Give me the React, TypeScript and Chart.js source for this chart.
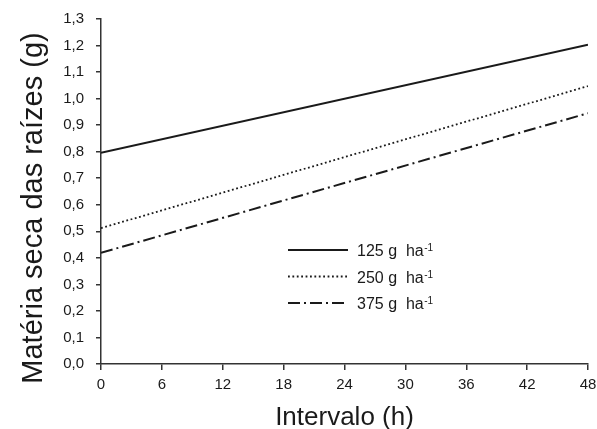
import React, { useEffect, useRef } from "react";
import { Chart, registerables } from "chart.js";

Chart.register(...registerables);

const FONT = "'Liberation Sans', Arial, Helvetica, sans-serif";

// ---- data ----
const xValues = [0, 48];
const series125 = [0.796, 1.203];
const series250 = [0.512, 1.047];
const series375 = [0.419, 0.945];
const seriesNames = ["125 g  ha", "250 g  ha", "375 g  ha"];
const seriesSup = "-1";
const xTickLabels = ["0", "6", "12", "18", "24", "30", "36", "42", "48"];
const yTickLabels = ["0,0", "0,1", "0,2", "0,3", "0,4", "0,5", "0,6", "0,7", "0,8", "0,9", "1,0", "1,1", "1,2", "1,3"];
const xTitle = "Intervalo (h)";
const yTitle = "Matéria seca das raízes (g)";

const INK = "#1a1a1a";
const AXIS = "#333333";

const customPlugin = {
  id: "customDecor",
  afterDraw(chart: any) {
    const { ctx, chartArea } = chart;
    ctx.save();
    ctx.fillStyle = INK;
    // x title
    ctx.font = `26px ${FONT}`;
    ctx.textAlign = "center";
    ctx.textBaseline = "alphabetic";
    ctx.fillText(xTitle, (chartArea.left + chartArea.right) / 2, chart.height - 4);
    // y title
    ctx.save();
    ctx.translate(42, 208);
    ctx.rotate(-Math.PI / 2);
    ctx.font = `29px ${FONT}`;
    ctx.fillText(yTitle, 0, 0);
    ctx.restore();
    // legend
    const lx0 = 288;
    const lx1 = 348;
    const tx = 357;
    chart.data.datasets.forEach((ds: any, i: number) => {
      const y = 250 + i * 26.5;
      ctx.save();
      ctx.strokeStyle = ds.borderColor;
      ctx.lineWidth = ds.borderWidth;
      ctx.setLineDash(ds.borderDash || []);
      ctx.beginPath();
      ctx.moveTo(lx0, y);
      ctx.lineTo(lx1, y);
      ctx.stroke();
      ctx.restore();
      ctx.textAlign = "left";
      ctx.font = `16px ${FONT}`;
      const base = y + 6;
      ctx.fillText(seriesNames[i], tx, base);
      const w = ctx.measureText(seriesNames[i]).width;
      ctx.font = `10px ${FONT}`;
      ctx.fillText(seriesSup, tx + w + 0.5, base - 5);
    });
    ctx.restore();
  },
};

function pts(vals: number[]) {
  return xValues.map((x, i) => ({ x, y: vals[i] }));
}

export default function App() {
  const ref = useRef<HTMLCanvasElement | null>(null);
  useEffect(() => {
    if (!ref.current) return;
    const chart = new Chart(ref.current, {
      type: "line",
      data: {
        datasets: [
          { label: seriesNames[0], data: pts(series125), borderColor: INK, borderWidth: 2, pointRadius: 0, borderDash: [], tension: 0 },
          { label: seriesNames[1], data: pts(series250), borderColor: INK, borderWidth: 1.8, pointRadius: 0, borderDash: [1.8, 2.6], tension: 0 },
          { label: seriesNames[2], data: pts(series375), borderColor: INK, borderWidth: 2, pointRadius: 0, borderDash: [12, 4, 2, 4], tension: 0 },
        ],
      },
      options: {
        responsive: false,
        animation: false,
        layout: { padding: { top: 19, right: 9, left: 0, bottom: 0 } },
        plugins: { legend: { display: false }, tooltip: { enabled: false }, title: { display: false } },
        scales: {
          x: {
            type: "linear",
            min: 0,
            max: 48,
            afterFit: (s: any) => { s.height = 65; s.paddingLeft = 0; s.paddingRight = 0; },
            afterBuildTicks: (s: any) => { s.ticks = xTickLabels.map((_, i) => ({ value: i * 6 })); },
            ticks: {
              stepSize: 6,
              padding: 6,
              color: INK,
              font: { family: FONT, size: 15 },
              maxRotation: 0,
              callback: (_v: any, i: number) => xTickLabels[i],
            },
            grid: { display: true, drawOnChartArea: false, drawTicks: true, tickLength: 6, color: AXIS, lineWidth: 1.5 },
            border: { display: true, color: AXIS, width: 1.5 },
          },
          y: {
            type: "linear",
            min: 0,
            max: 1.3,
            afterFit: (s: any) => { s.width = 101; s.paddingTop = 0; s.paddingBottom = 0; },
            afterBuildTicks: (s: any) => { s.ticks = yTickLabels.map((_, i) => ({ value: i / 10 })); },
            ticks: {
              stepSize: 0.1,
              padding: 12,
              color: INK,
              font: { family: FONT, size: 15 },
              callback: (_v: any, i: number) => yTickLabels[i],
            },
            grid: { display: true, drawOnChartArea: false, drawTicks: true, tickLength: 5, color: AXIS, lineWidth: 1.5 },
            border: { display: true, color: AXIS, width: 1.5 },
          },
        },
      },
      plugins: [customPlugin],
    });
    return () => chart.destroy();
  }, []);
  return (
    <div style={{ position: "fixed", left: 0, top: 0, width: 597, height: 429, background: "#fff" }}>
      <canvas ref={ref} width={597} height={429} style={{ display: "block" }} />
    </div>
  );
}
